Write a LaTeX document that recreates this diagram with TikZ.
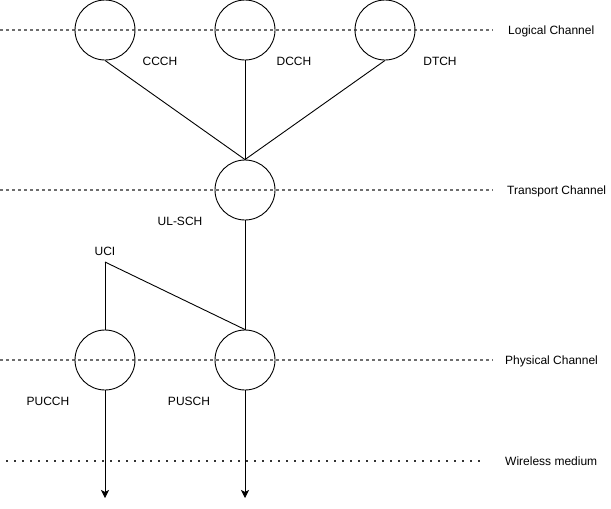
\documentclass[tikz,border=0pt]{standalone}
\usepackage{fontspec}
\setmainfont{Liberation Sans}
\usepackage{xcolor}
\usepackage{tikz}
\usetikzlibrary{positioning, arrows.meta, calc}
\definecolor{layergray}{HTML}{6E6E6E}

\tikzset{
  chan/.style={circle, draw, line width=0.9pt, minimum size=60pt, inner sep=0pt},
  lbl/.style={font=\fontsize{12pt}{14pt}\selectfont, inner sep=0pt},
  layer/.style={draw=layergray, line width=1.1pt, dash pattern=on 3pt off 3pt},
  medium/.style={draw=black!80, line width=1.6pt, dash pattern=on 1.6pt off 6.4pt},
  link/.style={draw, line width=0.9pt},
  tx/.style={draw, line width=0.9pt, -{Stealth[length=8pt, width=8pt, inset=2pt]}}
}

\begin{document}
\begin{tikzpicture}[x=1pt, y=-1pt]
    \useasboundingbox (0,0) rectangle (611,509);

    % layer lines
    \draw[layer] (0,30) -- (493,30);
    \draw[layer] (0,190) -- (493,190);
    \draw[layer] (0,360) -- (493,360);
    \draw[medium] (6,461) -- (482,461);

    \node[lbl, anchor=west] (logical) at (508,31) {Logical Channel};
    \node[lbl, anchor=west] (transport) at (507,191) {Transport Channel};
    \node[lbl, anchor=west] (physical) at (505,361) {Physical Channel};
    \node[lbl, anchor=west] (wireless) at (505,461) {Wireless medium};

    % channels
    \node[chan] (ccch) at (105,30) {};
    \node[chan] (dcch) at (245,30) {};
    \node[chan] (dtch) at (385,30) {};
    \node[chan] (ulsch) at (245,190) {};
    \node[chan] (pucch) at (105,360) {};
    \node[chan] (pusch) at (245,360) {};

    \node[lbl] (ccchtxt) at (160,61) {CCCH};
    \node[lbl] (dcchtxt) at (294,61) {DCCH};
    \node[lbl] (dtchtxt) at (440,61) {DTCH};
    \node[lbl] (ulschtxt) at (180,221) {UL-SCH};
    \node[lbl] (ucitxt) at (105,251) {UCI};
    \node[lbl] (pucchtxt) at (48,401) {PUCCH};
    \node[lbl] (puschtxt) at (189,401) {PUSCH};

    \coordinate (uci) at (105,262);
    \coordinate (pucchend) at (105,498);
    \coordinate (puschend) at (245,498);

    % connections
    \draw[link] (ccch.south) -- (ulsch.north);
    \draw[link] (dcch.south) -- (ulsch.north);
    \draw[link] (dtch.south) -- (ulsch.north);
    \draw[link] (ulsch.south) -- (pusch.north);
    \draw[link] (uci) -- (pucch.north);
    \draw[link] (uci) -- (pusch.north);
    \draw[tx] (pucch.south) -- (pucchend);
    \draw[tx] (pusch.south) -- (puschend);
\end{tikzpicture}
\end{document}
